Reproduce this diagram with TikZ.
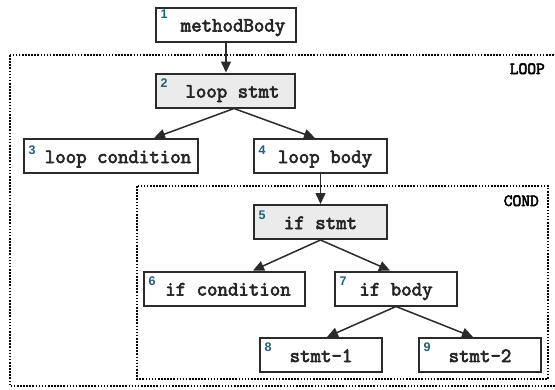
\documentclass[tikz,border=0pt]{standalone}
\usepackage{fontspec}
\newfontfamily\codefont{Latin Modern Mono}[FakeBold=3.2]
\newfontfamily\numfont{Liberation Sans}
\usetikzlibrary{arrows.meta}
\definecolor{boxline}{HTML}{2B2B2B}
\definecolor{stmtfill}{HTML}{EBEBEB}
\definecolor{numblue}{HTML}{1F5F7E}
% node text, pushed right by #1 pt to leave room for the index number
\newcommand\astlabel[2]{\kern#1pt\relax #2}

\begin{document}
\begin{tikzpicture}[x=1pt,y=-1pt,
  astnode/.style={draw=boxline, line width=2pt, fill=white, rectangle, inner sep=0pt,
    font=\codefont\fontsize{20.3}{23}\selectfont, text=black!85,
    text height=14pt, text depth=0pt, minimum height=34pt},
  stmtnode/.style={astnode, fill=stmtfill},
  numlab/.style={anchor=north west, inner sep=0pt,
    font=\numfont\bfseries\fontsize{12.5}{14}\selectfont, text=numblue,
    xshift=5.5pt, yshift=-6pt},
  region/.style={draw=black, line width=1.8pt, dash pattern=on 1.6pt off 1.5pt},
  regionlab/.style={font=\codefont\fontsize{17}{19}\selectfont,
    anchor=base east, inner sep=0pt},
  edge/.style={draw=boxline, line width=1.5pt, -{Triangle[length=11pt,width=10pt]}}
]
\useasboundingbox (0,0) rectangle (555,389);
\fill[white] (0,0) rectangle (555,389);

% scope regions
\draw[region] (10,55) rectangle (560,386);
\draw[region] (137,186) rectangle (548,379);
\node[regionlab] (looplab) at (545,74) {LOOP};
\node[regionlab] (condlab) at (539,206) {COND};

% tree nodes
\node[astnode, minimum width=140pt, label={[numlab,yshift=3pt]north west:1}]
  (n1) at (226,24.5) {\astlabel{14}{methodBody}};
\node[stmtnode, minimum width=139pt, label={[numlab]north west:2}]
  (n2) at (225.5,90.5) {\astlabel{14}{loop stmt}};
\node[astnode, minimum width=174pt, label={[numlab,yshift=-2pt]north west:3}]
  (n3) at (111,156) {\astlabel{14}{loop condition}};
\node[astnode, minimum width=133pt, label={[numlab,yshift=-2pt]north west:4}]
  (n4) at (320.5,156) {\astlabel{9}{loop body}};
\node[stmtnode, minimum width=133pt, label={[numlab,yshift=-1pt]north west:5}]
  (n5) at (320.5,222) {\astlabel{0}{if stmt}};
\node[astnode, minimum width=161pt, label={[numlab]north west:6}]
  (n6) at (224.5,288.5) {\astlabel{7}{if condition}};
\node[astnode, minimum width=122pt, label={[numlab]north west:7}]
  (n7) at (396,288.5) {\astlabel{0}{if body}};
\node[astnode, minimum width=122pt, label={[numlab]north west:8}]
  (n8) at (321,355) {\astlabel{0}{stmt-1}};
\node[astnode, minimum width=122pt, label={[numlab]north west:9}]
  (n9) at (480,355) {\astlabel{0}{stmt-2}};

% connectors
\draw[edge] (n1.south) -- (n1.south |- n2.north);
\draw[edge] ([xshift=8.5pt]n2.south) -- ([xshift=43pt]n3.north);
\draw[edge] ([xshift=8.5pt]n2.south) -- ([xshift=-5.5pt]n4.north);
\draw[edge] (n4.south) -- (n5.north);
\draw[edge] (n5.south) -- ([xshift=28.5pt]n6.north);
\draw[edge] (n5.south) -- ([xshift=-6pt]n7.north);
\draw[edge] (n7.south) -- ([xshift=6pt]n8.north);
\draw[edge] (n7.south) -- ([xshift=-7pt]n9.north);
\end{tikzpicture}
\end{document}
